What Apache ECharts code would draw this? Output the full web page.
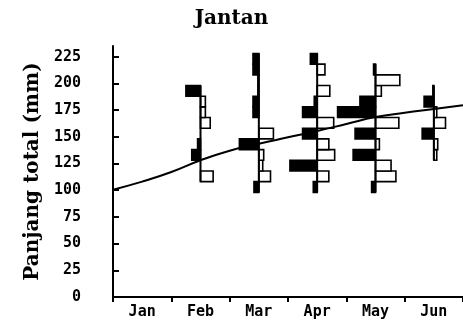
<!DOCTYPE html>
<html>
<head>
<meta charset="utf-8">
<script src="https://cdn.jsdelivr.net/npm/echarts@6/dist/echarts.min.js"></script>
<style>
html,body{margin:0;padding:0;background:#fff;}
#chart{width:463px;height:325px;}
</style>
</head>
<body>
<div id="chart"></div>
<script>
// ---- data ----
const months = ['Jan', 'Feb', 'Mar', 'Apr', 'May', 'Jun'];
const yTicks = [0, 25, 50, 75, 100, 125, 150, 175, 200, 225];
// length-class centres (mm)
const lengthClasses = [103, 113, 123, 133, 143, 153, 163, 173, 183, 193, 203, 213, 223];
const classWidth = 10;
// frequencies per length class (left = filled, right = open)
const febFilled = [0, 0, 0, 9, 3, 0, 0, 0, 0, 15, 0, 0, 0];
const febOpen   = [0, 13, 0, 0, 0, 0, 10, 5, 5, 0, 0, 0, 0];
const marFilled = [5, 0, 0, 0, 20, 0, 0, 6, 6, 1, 1, 6, 6];
const marOpen   = [0, 12, 4, 5, 0, 15, 0, 0, 0, 0, 0, 0, 0];
const aprFilled = [4, 0, 28, 0, 0, 15, 0, 15, 3, 0, 0, 0, 7];
const aprOpen   = [0, 12, 0, 18, 12, 0, 17, 0, 0, 13, 0, 8, 0];
const mayFilled = [4, 0, 0, 23, 0, 21, 0, 39, 16, 0, 0, 2, 0];
const mayOpen   = [0, 21, 16, 0, 4, 0, 24, 0, 0, 6, 25, 0, 0];
const junFilled = [0, 0, 0, 0, 0, 12, 0, 0, 10, 1, 0, 0, 0];
const junOpen   = [0, 0, 0, 3, 4, 0, 12, 3, 0, 0, 0, 0, 0];
// growth curve: [time in months from start of Jan, length mm]
const growthTime   = [0, 0.5, 1, 1.5, 2, 2.5, 3, 3.5, 4, 4.5, 5, 5.5, 6];
const growthLength = [100.5, 108, 117, 128, 137, 143.5, 149.5, 155.5, 162, 168.5, 172.5, 176, 179.5];

const freqPerMonth = 60; // frequency units spanning one month slot

const hist = [
  { month: 1, filled: febFilled, open: febOpen },
  { month: 2, filled: marFilled, open: marOpen },
  { month: 3, filled: aprFilled, open: aprOpen },
  { month: 4, filled: mayFilled, open: mayOpen },
  { month: 5, filled: junFilled, open: junOpen }
];

const chart = echarts.init(document.getElementById('chart'), null, { renderer: 'canvas' });

function renderHist(params, api) {
  const h = hist[params.dataIndex];
  const xc = h.month + 0.5;
  const half = classWidth / 2;
  const children = [];
  let lo = Infinity, hi = -Infinity;
  lengthClasses.forEach((c, k) => {
    const o = h.open[k], f = h.filled[k];
    if (o > 0 || f > 0) { lo = Math.min(lo, c - half); hi = Math.max(hi, c + half); }
    if (o > 0) {
      const p0 = api.coord([xc, c + half]);
      const p1 = api.coord([xc + o / freqPerMonth, c - half]);
      children.push({ type: 'rect', shape: { x: p0[0], y: p0[1], width: p1[0] - p0[0], height: p1[1] - p0[1] },
        style: { fill: '#fff', stroke: '#000', lineWidth: 1.6 } });
    }
  });
  lengthClasses.forEach((c, k) => {
    const f = h.filled[k];
    if (f > 0) {
      const p0 = api.coord([xc - f / freqPerMonth, c + half]);
      const p1 = api.coord([xc, c - half]);
      children.push({ type: 'rect', shape: { x: p0[0], y: p0[1], width: p1[0] - p0[0], height: p1[1] - p0[1] },
        style: { fill: '#000', stroke: '#000', lineWidth: 1.6 } });
    }
  });
  const a = api.coord([xc, hi]);
  const b = api.coord([xc, lo]);
  children.push({ type: 'line', shape: { x1: a[0], y1: a[1], x2: b[0], y2: b[1] },
    style: { stroke: '#000', lineWidth: 2 } });
  return { type: 'group', children };
}

const monoFont = 'DejaVu Sans Mono';
const serifFont = 'DejaVu Serif';

chart.setOption({
  backgroundColor: '#fff',
  animation: false,
  title: {
    text: 'Jantan', left: 'center', top: 4,
    textStyle: { fontFamily: serifFont, fontWeight: 'bold', fontSize: 20, color: '#000' }
  },
  grid: { left: 113, width: 353, top: 46, bottom: 28, containLabel: false },
  xAxis: [
    {
      type: 'category', data: months, boundaryGap: true,
      axisLine: { lineStyle: { color: '#000', width: 2 } },
      axisTick: { show: true, length: 5, lineStyle: { color: '#000', width: 2 } },
      axisLabel: { color: '#000', fontFamily: monoFont, fontWeight: 'bold', fontSize: 15, margin: 8 },
      splitLine: { show: false }
    },
    { type: 'value', min: 0, max: 6, show: false, gridIndex: 0 }
  ],
  yAxis: {
    type: 'value', min: 0, max: 235, interval: 25, offset: 23,
    name: 'Panjang total (mm)', nameLocation: 'middle', nameGap: 46,
    nameTextStyle: { fontFamily: serifFont, fontWeight: 'bold', fontSize: 20, color: '#000' },
    axisLine: { show: true, lineStyle: { color: '#000', width: 2 } },
    axisTick: { show: true, inside: true, length: 6, lineStyle: { color: '#000', width: 2 }, customValues: yTicks },
    axisLabel: { color: '#000', fontFamily: monoFont, fontWeight: 'bold', fontSize: 15, margin: 9, customValues: yTicks },
    splitLine: { show: false }
  },
  series: [
    {
      type: 'custom', xAxisIndex: 1, yAxisIndex: 0,
      data: hist.map(h => [h.month + 0.5, 0]),
      renderItem: renderHist, clip: false, z: 2
    },
    {
      type: 'line', xAxisIndex: 1, yAxisIndex: 0,
      data: growthTime.map((t, i) => [t, growthLength[i]]),
      smooth: true, showSymbol: false, symbol: 'none',
      lineStyle: { color: '#000', width: 2 }, z: 3
    }
  ]
});
</script>
</body>
</html>
